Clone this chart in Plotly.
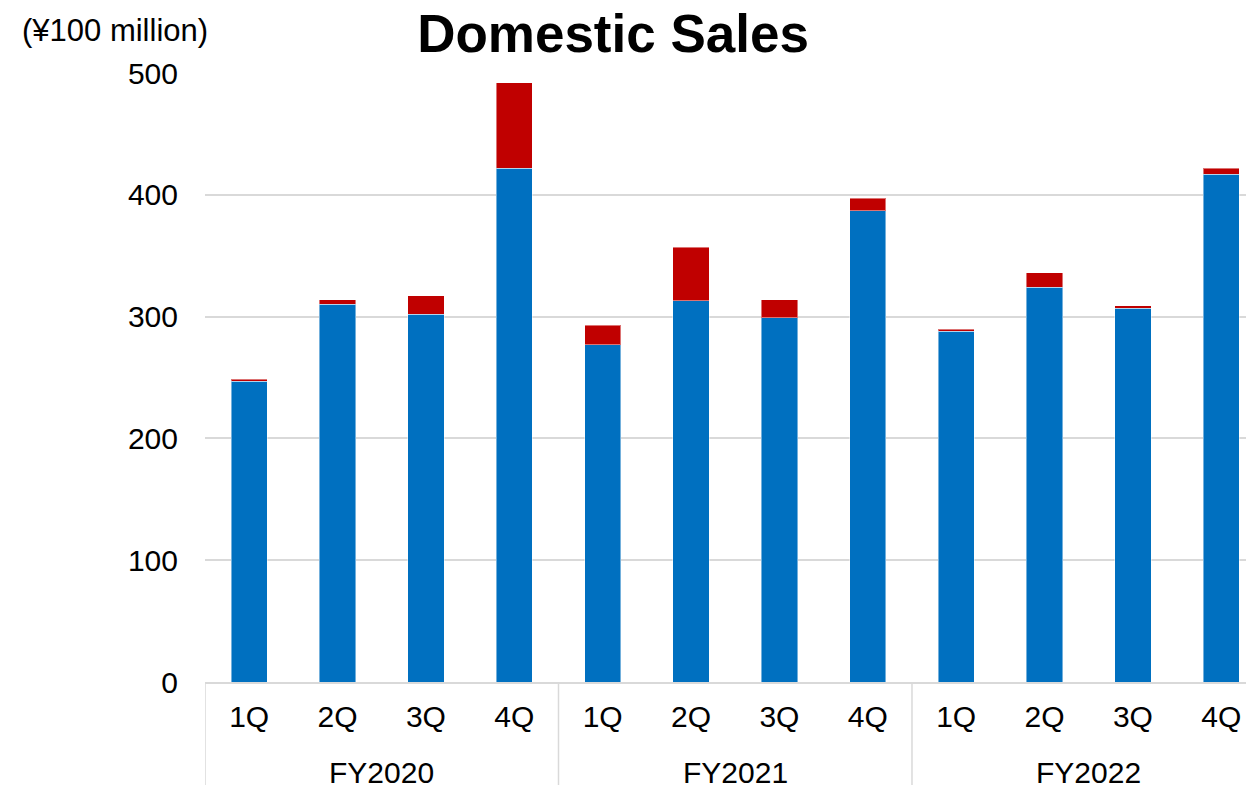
import plotly.graph_objects as go

fiscal_years = ["FY2020"] * 4 + ["FY2021"] * 4 + ["FY2022"] * 4
quarters = ["1Q", "2Q", "3Q", "4Q"] * 3
blue_values = [247, 310, 302, 422, 277, 313, 299, 387, 288, 324, 307, 417]
red_values = [1.5, 4, 15, 70, 16, 44, 15, 10, 1.5, 12, 2, 5]
y_ticks = [0, 100, 200, 300, 400, 500]

FONT = "Liberation Sans, Arial, sans-serif"
GRID = "#d9d9d9"

positions = list(range(len(quarters)))

fig = go.Figure()
fig.add_trace(go.Bar(
    x=positions, y=blue_values,
    marker=dict(color="#0070C0", line=dict(color="rgba(255,255,255,0.45)", width=1)),
    showlegend=False, customdata=list(zip(fiscal_years, quarters)),
    hovertemplate="%{customdata[0]} %{customdata[1]}: %{y}<extra></extra>",
))
fig.add_trace(go.Bar(
    x=positions, y=red_values,
    marker=dict(color="#C00000", line=dict(color="rgba(255,255,255,0.45)", width=1)),
    showlegend=False, customdata=list(zip(fiscal_years, quarters)),
    hovertemplate="%{customdata[0]} %{customdata[1]}: %{y}<extra></extra>",
))

# group labels and dividers derived from the fiscal-year list
groups = []
for i, fy in enumerate(fiscal_years):
    if not groups or groups[-1][0] != fy:
        groups.append([fy, i, i])
    else:
        groups[-1][2] = i

annotations = []
shapes = []
for fy, start, end in groups:
    annotations.append(dict(text=fy, xref="x", yref="paper", x=(start + end) / 2, y=-0.148,
                            xanchor="center", yanchor="middle", showarrow=False,
                            font=dict(family=FONT, size=30, color="#000000")))
    shapes.append(dict(type="line", xref="x", yref="paper", x0=start - 0.5, x1=start - 0.5,
                       y0=0, y1=-0.2, line=dict(color=GRID, width=1.5)))
shapes.append(dict(type="line", xref="x", yref="paper", x0=groups[-1][2] + 0.5,
                   x1=groups[-1][2] + 0.5, y0=0, y1=-0.2, line=dict(color=GRID, width=1.5)))

annotations.append(dict(text="(¥100 million)", xref="paper", yref="paper",
                        x=-0.1764, y=1.0706, xanchor="left", yanchor="middle",
                        showarrow=False, font=dict(family=FONT, size=31, color="#000000")))

fig.update_layout(
    width=1246, height=777,
    barmode="stack", bargap=0.59,
    paper_bgcolor="white", plot_bgcolor="white",
    margin=dict(l=197, r=0, t=65, b=103),
    font=dict(family=FONT, size=30, color="#000000"),
    title=dict(text="<b>Domestic Sales</b>", x=0.4856, xref="container", xanchor="center",
               y=0.9678, yref="container", yanchor="middle",
               font=dict(family=FONT, size=53, color="#000000")),
    xaxis=dict(range=[-0.5, 11.37], tickvals=positions, ticktext=quarters,
               showline=True, linecolor=GRID, linewidth=1.5, showgrid=False,
               zeroline=False, ticks="", ticklabelstandoff=7,
               tickfont=dict(size=30)),
    yaxis=dict(range=[0, 500], tickvals=y_ticks, showgrid=True, gridcolor=GRID,
               gridwidth=1.5, zeroline=False, showline=False, ticks="",
               ticklabelstandoff=26, tickfont=dict(size=30)),
    annotations=annotations,
    shapes=shapes,
)

fig.write_html("out.html")
